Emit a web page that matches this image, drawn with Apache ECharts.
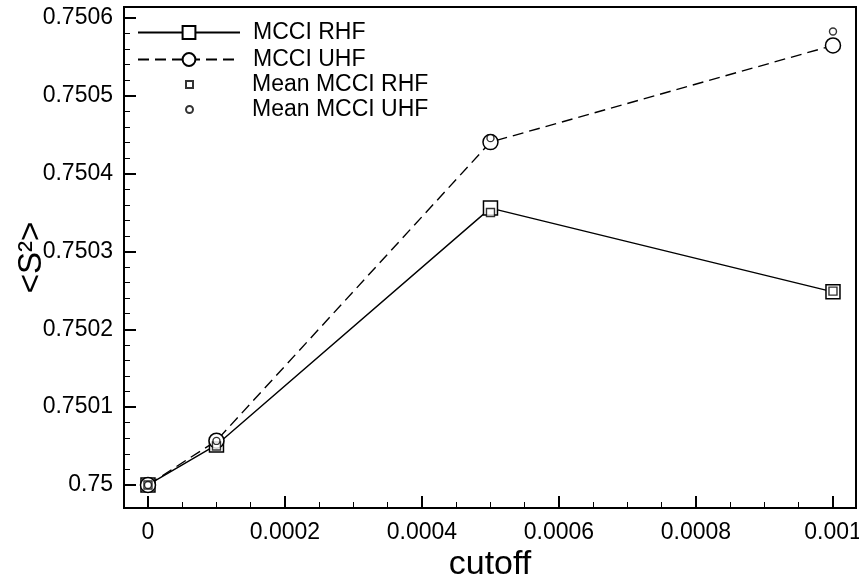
<!DOCTYPE html>
<html>
<head>
<meta charset="utf-8">
<script src="https://cdn.jsdelivr.net/npm/echarts@6/dist/echarts.min.js"></script>
<style>
html, body { margin: 0; padding: 0; background: #fff; }
#main { width: 859px; height: 576px; }
</style>
</head>
<body>
<div id="main"></div>
<script>
// values
var cutoff = [0, 0.0001, 0.0005, 0.001];
var rhf = [0.75, 0.7500514, 0.7503557, 0.7502481];
var uhf = [0.75, 0.7500569, 0.7504405, 0.7505647];
var meanRhf = [0.75, 0.7500500, 0.7503500, 0.7502490];
var meanUhf = [0.75, 0.7500566, 0.7504456, 0.7505826];

var xTicks = [0, 0.0002, 0.0004, 0.0006, 0.0008, 0.001];
var xTickLabels = ['0', '0.0002', '0.0004', '0.0006', '0.0008', '0.001'];
var yTicks = [0.75, 0.7501, 0.7502, 0.7503, 0.7504, 0.7505, 0.7506];
var yTickLabels = ['0.75', '0.7501', '0.7502', '0.7503', '0.7504', '0.7505', '0.7506'];

var font = 'Liberation Sans';

// minor ticks: 4 steps per major on x, 5 on y
var xMinor = [];
for (var i = 0; i <= 20; i++) xMinor.push(i * 0.00005);
var yMinor = [];
for (var j = 0; j <= 30; j++) yMinor.push(0.75 + j * 0.00002);

function pairs(xs, ys) {
    var out = [];
    for (var k = 0; k < xs.length; k++) out.push([xs[k], ys[k]]);
    return out;
}

function labelOf(ticks, labels) {
    return function (v) {
        for (var k = 0; k < ticks.length; k++) {
            if (Math.abs(ticks[k] - v) < 1e-9) return labels[k];
        }
        return '';
    };
}

var xMin = -0.000035, xMax = 0.0010336;
var yMin = 0.7499704, yMax = 0.7506141;

var legendText = { fontFamily: font, fontSize: 23, color: '#000', lineHeight: 17 };

var myChart = echarts.init(document.getElementById('main'));
myChart.setOption({
    animation: false,
    backgroundColor: '#fff',
    grid: {
        left: 124, right: 3, top: 7, bottom: 68,
        outerBoundsMode: 'none',
        show: true, borderColor: '#000', borderWidth: 2
    },
    legend: [{
        data: ['MCCI RHF', 'MCCI UHF'],
        orient: 'vertical',
        left: 137, top: 21,
        padding: 0,
        itemWidth: 102, itemHeight: 16, itemGap: 4,
        selectedMode: false,
        textStyle: Object.assign({ padding: [0, 0, 0, 8] }, legendText)
    }, {
        data: [
            { name: 'Mean MCCI RHF', icon: 'rect' },
            { name: 'Mean MCCI UHF', icon: 'circle' }
        ],
        orient: 'vertical',
        left: 185, top: 73,
        padding: 0,
        itemWidth: 7, itemHeight: 7, itemGap: 2,
        selectedMode: false,
        textStyle: Object.assign({ padding: [0, 0, 0, 54] }, legendText)
    }],
    xAxis: [{
        type: 'value', min: xMin, max: xMax, position: 'bottom',
        axisLine: { show: true, onZero: false, lineStyle: { color: '#000', width: 2 } },
        axisTick: { show: true, inside: true, length: 12, customValues: xTicks, lineStyle: { color: '#000', width: 2 } },
        axisLabel: { customValues: xTicks, formatter: labelOf(xTicks, xTickLabels), margin: 13,
            fontFamily: font, fontSize: 23, color: '#000' },
        splitLine: { show: false },
        name: 'cutoff', nameLocation: 'middle', nameGap: 40, nameMoveOverlap: false,
        nameTextStyle: { fontFamily: font, fontSize: 34, color: '#000' }
    }, {
        type: 'value', min: xMin, max: xMax, position: 'bottom',
        axisLine: { show: false, onZero: false },
        axisTick: { show: true, inside: true, length: 6, customValues: xMinor, lineStyle: { color: '#000', width: 1 } },
        axisLabel: { show: false },
        splitLine: { show: false }
    }],
    yAxis: [{
        type: 'value', min: yMin, max: yMax, position: 'left',
        axisLine: { show: true, onZero: false, lineStyle: { color: '#000', width: 2 } },
        axisTick: { show: true, inside: true, length: 12, customValues: yTicks, lineStyle: { color: '#000', width: 2 } },
        axisLabel: { customValues: yTicks, formatter: labelOf(yTicks, yTickLabels), margin: 11,
            fontFamily: font, fontSize: 23, color: '#000' },
        splitLine: { show: false },
        name: '<S²>', nameLocation: 'middle', nameGap: 76, nameRotate: 90, nameMoveOverlap: false,
        nameTextStyle: { fontFamily: font, fontSize: 33, color: '#000' }
    }, {
        type: 'value', min: yMin, max: yMax, position: 'left',
        axisLine: { show: false, onZero: false },
        axisTick: { show: true, inside: true, length: 6, customValues: yMinor, lineStyle: { color: '#000', width: 1 } },
        axisLabel: { show: false },
        splitLine: { show: false }
    }],
    series: [{
        name: 'MCCI RHF',
        type: 'line',
        data: pairs(cutoff, rhf),
        symbol: 'rect', symbolSize: 14, showSymbol: true,
        lineStyle: { color: '#000', width: 1.4 },
        itemStyle: { color: '#fff', borderColor: '#000', borderWidth: 1.5 },
        silent: true, z: 2
    }, {
        name: 'MCCI UHF',
        type: 'line',
        data: pairs(cutoff, uhf),
        symbol: 'circle', symbolSize: 15, showSymbol: true,
        lineStyle: { color: '#000', width: 1.4, type: [11, 6] },
        itemStyle: { color: '#fff', borderColor: '#000', borderWidth: 1.5 },
        silent: true, z: 3
    }, {
        name: 'Mean MCCI RHF',
        type: 'scatter',
        data: pairs(cutoff, meanRhf),
        symbol: 'rect', symbolSize: 8,
        itemStyle: { color: '#fff', borderColor: '#000', borderWidth: 1.4 },
        silent: true, z: 4
    }, {
        name: 'Mean MCCI UHF',
        type: 'scatter',
        data: pairs(cutoff, meanUhf),
        symbol: 'circle', symbolSize: 7,
        itemStyle: { color: '#fff', borderColor: '#000', borderWidth: 1.4 },
        silent: true, z: 5
    }]
});
</script>
</body>
</html>
